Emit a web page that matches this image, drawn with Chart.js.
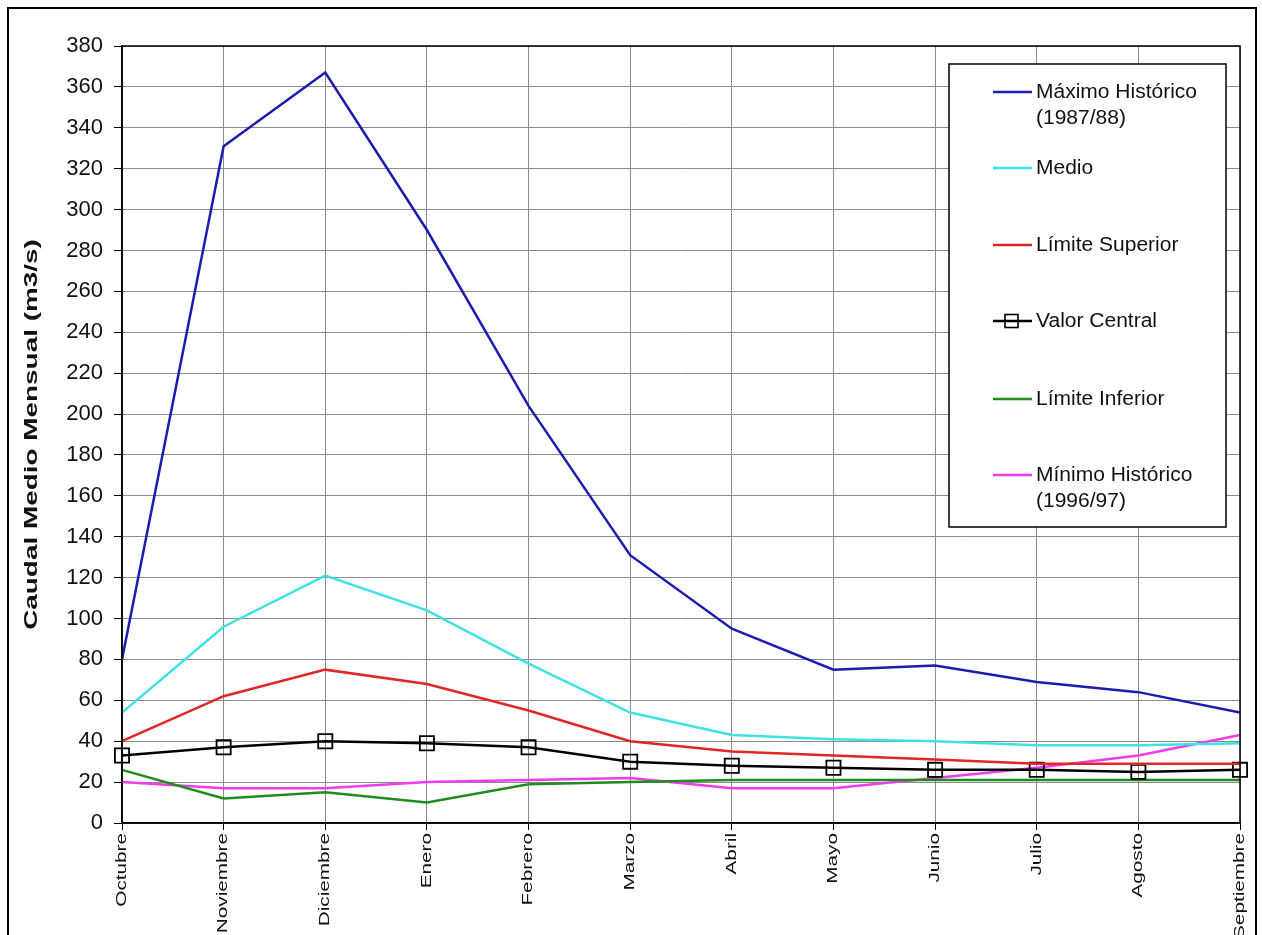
<!DOCTYPE html>
<html>
<head>
<meta charset="utf-8">
<script src="https://cdn.jsdelivr.net/npm/chart.js@4/dist/chart.umd.min.js"></script>
<style>
  html, body { margin: 0; padding: 0; background: #fff; }
  #wrap { width: 1262px; height: 935px; position: relative; }
</style>
</head>
<body>
<div id="wrap"><canvas id="caudalChart" width="1262" height="935"></canvas></div>
<script>
// Meses del año hidrológico
const meses = ["Octubre", "Noviembre", "Diciembre", "Enero", "Febrero", "Marzo",
               "Abril", "Mayo", "Junio", "Julio", "Agosto", "Septiembre"];

// Caudales medios mensuales (m3/s)
const maximoHistorico = [80, 331, 367, 290, 204, 131, 95, 75, 77, 69, 64, 54];
const medio           = [54, 96, 121, 104, 78, 54, 43, 41, 40, 38, 38, 39];
const limiteSuperior  = [40, 62, 75, 68, 55, 40, 35, 33, 31, 29, 29, 29];
const valorCentral    = [33, 37, 40, 39, 37, 30, 28, 27, 26, 26, 25, 26];
const limiteInferior  = [26, 12, 15, 10, 19, 20, 21, 21, 21, 21, 21, 21];
const minimoHistorico = [20, 17, 17, 20, 21, 22, 17, 17, 22, 27, 33, 43];

const yTicks = [0, 20, 40, 60, 80, 100, 120, 140, 160, 180, 200, 220, 240,
                260, 280, 300, 320, 340, 360, 380];

const yTitle = "Caudal Medio Mensual (m3/s)";

// ✅ Legend entries (label lines + row position)
const legendRows = [
    { lines: ["Máximo Histórico", "(1987/88)"], y: 92 },
    { lines: ["Medio"], y: 168 },
    { lines: ["Límite Superior"], y: 245 },
    { lines: ["Valor Central"], y: 321 },
    { lines: ["Límite Inferior"], y: 399 },
    { lines: ["Mínimo Histórico", "(1996/97)"], y: 475 }
];

const FONT = "Arial, 'Liberation Sans', sans-serif";

// ✅ Frame, plot border, stretched axis texts and boxed legend
const framePlugin = {
    id: "frame",
    beforeDraw(chart) {
        const c = chart.ctx;
        c.save();
        c.fillStyle = "#fff";
        c.fillRect(0, 0, chart.width, chart.height);
        c.restore();
    },
    afterDraw(chart) {
        const c = chart.ctx;
        const a = chart.chartArea;
        const xs = chart.scales.x;
        c.save();
        // plot area border
        c.strokeStyle = "#000";
        c.lineWidth = 1.5;
        c.strokeRect(a.left, a.top, a.right - a.left, a.bottom - a.top);

        // outer border of the picture
        c.lineWidth = 2;
        c.strokeRect(8, 8, 1248, 940);

        // y axis title (tall, narrow lettering like the original)
        c.fillStyle = "#111";
        c.save();
        c.translate(32, (a.top + a.bottom) / 2);
        c.rotate(-Math.PI / 2);
        c.scale(1.55, 1);
        c.font = "bold 18px " + FONT;
        c.textAlign = "center";
        c.textBaseline = "middle";
        c.fillText(yTitle, 0, 0);
        c.restore();

        // month labels, rotated and stretched
        meses.forEach((m, i) => {
            const px = xs.getPixelForTick(i);
            c.save();
            c.translate(px, a.bottom + 10);
            c.rotate(-Math.PI / 2);
            c.scale(1.48, 1);
            c.font = "14px " + FONT;
            c.textAlign = "right";
            c.textBaseline = "middle";
            c.fillText(m, 0, 0);
            c.restore();
        });

        // legend box
        c.fillStyle = "#fff";
        c.fillRect(949, 64, 277, 463);
        c.lineWidth = 1.5;
        c.strokeStyle = "#000";
        c.strokeRect(949, 64, 277, 463);

        c.font = "20px " + FONT;
        c.textBaseline = "middle";
        c.textAlign = "left";
        legendRows.forEach((row, i) => {
            const ds = chart.data.datasets[i];
            c.strokeStyle = ds.borderColor;
            c.lineWidth = 2.5;
            c.beginPath();
            c.moveTo(993, row.y);
            c.lineTo(1032, row.y);
            c.stroke();
            if (ds.pointRadius > 0) {
                c.lineWidth = 1.6;
                c.strokeStyle = "#000";
                c.strokeRect(1005, row.y - 6.5, 13, 13);
            }
            c.fillStyle = "#111";
            row.lines.forEach((t, j) => {
                c.save();
                c.translate(1036, row.y + j * 26);
                c.scale(1.05, 1);
                c.fillText(t, 0, 0);
                c.restore();
            });
        });
        c.restore();
    }
};

const ctx = document.getElementById("caudalChart").getContext("2d");
const caudalChart = new Chart(ctx, {
    type: "line",
    data: {
        labels: meses,
        datasets: [
            { label: "Máximo Histórico (1987/88)", data: maximoHistorico, borderColor: "#1c1cb0", borderWidth: 2.5, pointRadius: 0 },
            { label: "Medio", data: medio, borderColor: "#3ee2e2", borderWidth: 2.5, pointRadius: 0 },
            { label: "Límite Superior", data: limiteSuperior, borderColor: "#e02626", borderWidth: 2.5, pointRadius: 0 },
            { label: "Valor Central", data: valorCentral, borderColor: "#000", borderWidth: 2.5,
              pointStyle: "rect", pointRadius: 10, pointBorderWidth: 1.8,
              pointBackgroundColor: "rgba(0,0,0,0)", pointBorderColor: "#000" },
            { label: "Límite Inferior", data: limiteInferior, borderColor: "#1f8c1f", borderWidth: 2.5, pointRadius: 0 },
            { label: "Mínimo Histórico (1996/97)", data: minimoHistorico, borderColor: "#ee3cee", borderWidth: 2.5, pointRadius: 0 }
        ]
    },
    options: {
        responsive: false,
        animation: false,
        events: [],
        layout: { padding: { left: 0, right: 22, top: 46, bottom: 0 } },
        elements: { line: { tension: 0 } },
        scales: {
            x: {
                type: "category",
                offset: false,
                afterFit: (s) => { s.height = 112; },
                grid: { color: "#8c8c8c", lineWidth: 1, tickLength: 7, tickColor: "#000", drawTicks: true },
                border: { color: "#000", width: 1.5 },
                ticks: { display: false, autoSkip: false }
            },
            y: {
                min: 0,
                max: 380,
                afterFit: (s) => { s.width = 122; },
                afterBuildTicks: (s) => { s.ticks = yTicks.map(v => ({ value: v })); },
                grid: { color: "#8c8c8c", lineWidth: 1, tickLength: 8, tickColor: "#000" },
                border: { color: "#000", width: 1.5 },
                ticks: {
                    padding: 11,
                    color: "#111",
                    font: { family: FONT, size: 22 }
                },
                title: { display: false, text: yTitle }
            }
        },
        plugins: {
            legend: { display: false },
            tooltip: { enabled: false }
        }
    },
    plugins: [framePlugin]
});
</script>
</body>
</html>
